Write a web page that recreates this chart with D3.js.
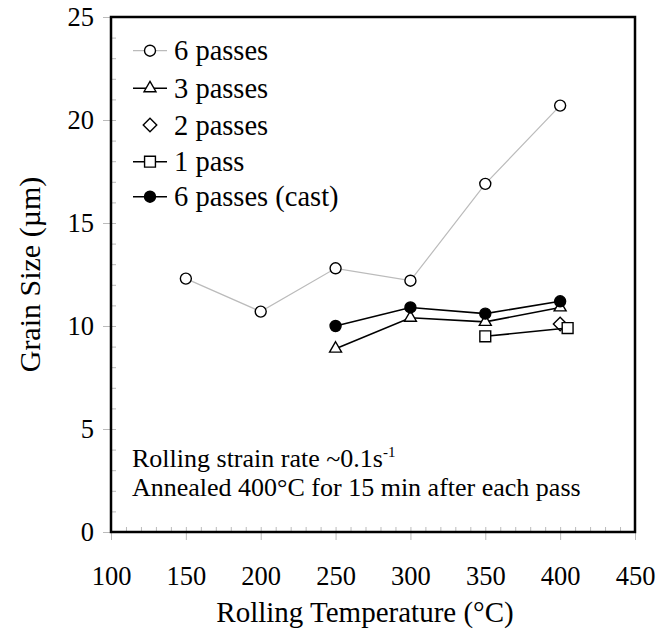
<!DOCTYPE html>
<html>
<head>
<meta charset="utf-8">
<script src="https://cdn.jsdelivr.net/npm/d3@7"></script>
<style>
  body { margin: 0; background: #fff; }
</style>
</head>
<body>
<div id="chart"></div>
<script>
'use strict';

// data
const temps6 = [150, 200, 250, 300, 350, 400];
const grain6 = [12.3, 10.7, 12.8, 12.2, 16.9, 20.7];
const temps3 = [250, 300, 350, 400];
const grain3 = [8.9, 10.4, 10.2, 10.9];
const temps2 = [400];
const grain2 = [10.1];
const temps1 = [350, 405];
const grain1 = [9.5, 9.9];
const tempsCast = [250, 300, 350, 400];
const grainCast = [10.0, 10.9, 10.6, 11.2];

const xTicks = [100, 150, 200, 250, 300, 350, 400, 450];
const yTicks = [0, 5, 10, 15, 20, 25];
const legendNames = ['6 passes', '3 passes', '2 passes', '1 pass', '6 passes (cast)'];

const FONT = '"Liberation Serif", "Times New Roman", Times, "DejaVu Serif", serif';

function drawChart(elementID) {
  const width = 672;
  const height = 635;
  const left = 111, right = 635, top = 17, bottom = 532;

  const scaleX = d3.scaleLinear().domain([100, 450]).range([left, right]);
  const scaleY = d3.scaleLinear().domain([0, 25]).range([bottom, top]);

  const svg = d3.select('#' + elementID).append('svg')
    .attr('width', width)
    .attr('height', height)
    .attr('font-family', FONT);

  // minor ticks, inside the frame
  svg.append('g')
    .attr('transform', `translate(0, ${bottom})`)
    .call(d3.axisBottom(scaleX).tickValues(d3.range(110, 450, 10)).tickSize(-5).tickFormat(''))
    .call(g => g.select('.domain').remove())
    .call(g => g.selectAll('line').attr('stroke', '#bbb'));

  svg.append('g')
    .attr('transform', `translate(${left}, 0)`)
    .call(d3.axisLeft(scaleY).tickValues(d3.range(1, 25, 1)).tickSize(-5).tickFormat(''))
    .call(g => g.select('.domain').remove())
    .call(g => g.selectAll('line').attr('stroke', '#bbb'));

  // major ticks + labels
  svg.append('g')
    .attr('transform', `translate(0, ${bottom})`)
    .call(d3.axisBottom(scaleX).tickValues(xTicks).tickSize(8).tickPadding(26))
    .call(g => g.select('.domain').remove())
    .call(g => g.attr('font-family', FONT))
    .call(g => g.selectAll('line').attr('stroke', '#bbb'))
    .call(g => g.selectAll('text').style('font-size', '26.5px').style('font-family', FONT).attr('fill', '#000'));

  svg.append('g')
    .attr('transform', `translate(${left}, 0)`)
    .call(d3.axisLeft(scaleY).tickValues(yTicks).tickSize(8).tickPadding(9))
    .call(g => g.select('.domain').remove())
    .call(g => g.attr('font-family', FONT))
    .call(g => g.selectAll('line').attr('stroke', '#bbb'))
    .call(g => g.selectAll('text').style('font-size', '26.5px').style('font-family', FONT).attr('fill', '#000'));

  // frame
  svg.append('rect')
    .attr('x', left)
    .attr('y', top)
    .attr('width', right - left)
    .attr('height', bottom - top)
    .attr('fill', 'none')
    .attr('stroke', '#000')
    .attr('stroke-width', 2.5);

  // axis titles
  svg.append('text')
    .attr('x', 365)
    .attr('y', 622)
    .attr('text-anchor', 'middle')
    .style('font-family', FONT)
    .style('font-size', '29px')
    .text('Rolling Temperature (°C)');

  svg.append('text')
    .attr('transform', `translate(40, ${(top + bottom) / 2}) rotate(-90)`)
    .attr('text-anchor', 'middle')
    .style('font-family', FONT)
    .style('font-size', '30px')
    .text('Grain Size (µm)');

  const tri = d3.symbol().type(d3.symbolTriangle).size(62);
  const sq = d3.symbol().type(d3.symbolSquare).size(118);
  const dia = d3.symbol().type(d3.symbolSquare).size(92);

  const line = d3.line().x(d => scaleX(d[0])).y(d => scaleY(d[1]));
  const zip = (xs, ys) => xs.map((x, i) => [x, ys[i]]);

  const series = [
    { name: legendNames[0], pts: zip(temps6, grain6), line: '#bbb', lw: 1.2, mark: 'circle', fill: '#fff' },
    { name: legendNames[1], pts: zip(temps3, grain3), line: '#000', lw: 1.6, mark: 'tri', fill: '#fff' },
    { name: legendNames[2], pts: zip(temps2, grain2), line: null, lw: 0, mark: 'dia', fill: '#fff' },
    { name: legendNames[3], pts: zip(temps1, grain1), line: '#000', lw: 1.6, mark: 'sq', fill: '#fff' },
    { name: legendNames[4], pts: zip(tempsCast, grainCast), line: '#000', lw: 1.6, mark: 'circle', fill: '#000' },
  ];

  function addMark(g, s, x, y) {
    if (s.mark === 'circle') {
      g.append('circle').attr('cx', x).attr('cy', y).attr('r', 5.5)
        .attr('fill', s.fill).attr('stroke', '#000').attr('stroke-width', 1.4);
    } else {
      const path = s.mark === 'tri' ? tri() : s.mark === 'sq' ? sq() : dia();
      const rot = s.mark === 'dia' ? ' rotate(45)' : '';
      g.append('path').attr('d', path)
        .attr('transform', `translate(${x}, ${y})${rot}`)
        .attr('fill', s.fill).attr('stroke', '#000').attr('stroke-width', 1.4);
    }
  }

  series.forEach(s => {
    const g = svg.append('g');
    if (s.line) {
      g.append('path').datum(s.pts).attr('d', line)
        .attr('fill', 'none').attr('stroke', s.line).attr('stroke-width', s.lw);
    }
    s.pts.forEach(p => addMark(g, s, scaleX(p[0]), scaleY(p[1])));
  });

  // legend
  const legY = [50.7, 88.3, 125, 161.7, 196.7];
  series.forEach((s, i) => {
    const g = svg.append('g');
    if (s.line) {
      g.append('line').attr('x1', 133).attr('x2', 167).attr('y1', legY[i]).attr('y2', legY[i])
        .attr('stroke', s.line).attr('stroke-width', s.lw);
    }
    addMark(g, s, 150, legY[i]);
    g.append('text')
      .attr('x', 174)
      .attr('y', legY[i] + 9.5)
      .style('font-family', FONT)
      .style('font-size', '28.5px')
      .text(s.name);
  });

  // annotation
  const note = svg.append('text').attr('x', 132).attr('y', 467)
    .style('font-family', FONT).style('font-size', '26px');
  note.append('tspan').text('Rolling strain rate ~0.1s');
  note.append('tspan').attr('dy', -10).style('font-size', '15px').text('-1');
  svg.append('text').attr('x', 132).attr('y', 496)
    .style('font-family', FONT).style('font-size', '26px')
    .text('Annealed 400°C for 15 min after each pass');
}

drawChart('chart');
</script>
</body>
</html>
